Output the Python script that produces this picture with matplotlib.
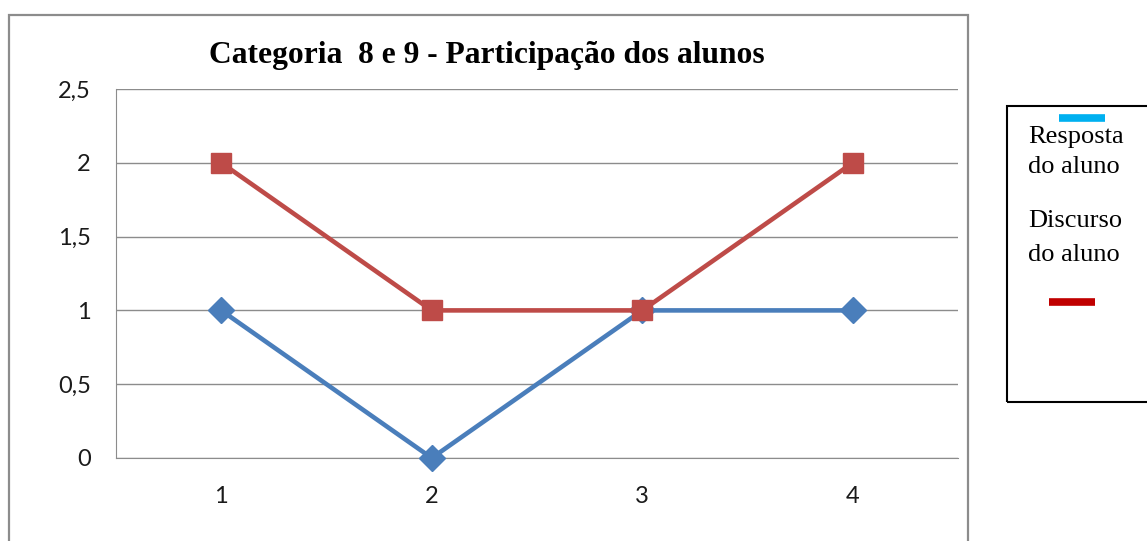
import matplotlib.pyplot as plt
from matplotlib.patches import Rectangle
from matplotlib.lines import Line2D

# chart data
categorias = [1, 2, 3, 4]
resposta_aluno = [1, 0, 1, 1]
discurso_aluno = [2, 1, 1, 2]
y_ticks = [0, 0.5, 1, 1.5, 2, 2.5]
y_labels = ['0', '0,5', '1', '1,5', '2', '2,5']

W, H = 1147, 541
fig = plt.figure(figsize=(W / 100, H / 100), dpi=100)

# outer chart frame (bottom is cut off in the reference)
fig.add_artist(Rectangle((9 / W, -0.05), (968 - 9) / W, 1.05 - 15 / H,
                         transform=fig.transFigure, fill=False,
                         edgecolor='#8c8c8c', linewidth=1.6))

ax = fig.add_axes([116 / W, 1 - 458 / H, (958 - 116) / W, (458 - 89) / H])

ax.plot(categorias, resposta_aluno, color='#4a7ebb', linewidth=3.3,
        marker='D', markersize=13, solid_capstyle='round', zorder=3,
        clip_on=False)
ax.plot(categorias, discurso_aluno, color='#be4b48', linewidth=3.3,
        marker='s', markersize=14.5, solid_capstyle='round', zorder=3,
        clip_on=False)

ax.set_xlim(0.5, 4.5)
ax.set_ylim(0, 2.5)
ax.set_xticks(categorias)
ax.set_xticklabels([str(c) for c in categorias])
ax.set_yticks(y_ticks)
ax.set_yticklabels(y_labels)
ax.grid(axis='y', color='#8c8c8c', linewidth=1)
ax.set_axisbelow(True)
for side in ['top', 'right']:
    ax.spines[side].set_visible(False)
ax.spines['left'].set_color('#8c8c8c')
ax.spines['bottom'].set_color('#8c8c8c')
ax.tick_params(length=0, labelsize=17, colors='#1a1a1a')
ax.tick_params(axis='y', pad=18)
ax.tick_params(axis='x', pad=20)
for lab in ax.get_xticklabels() + ax.get_yticklabels():
    lab.set_family('Lato')

fig.text(487 / W, 1 - 55 / H, 'Categoria  8 e 9 - Participação dos alunos',
         ha='center', va='center', fontsize=22.7, fontweight='bold',
         family='Liberation Serif')

# legend box drawn by hand to follow the original layout
fig.add_artist(Rectangle((1007 / W, 1 - 402 / H), 0.2, (402 - 106) / H,
                         transform=fig.transFigure, fill=False,
                         edgecolor='black', linewidth=1.5))
fig.add_artist(Line2D([1059 / W, 1105 / W], [1 - 118 / H, 1 - 118 / H],
                      transform=fig.transFigure, color='#00b0f0',
                      linewidth=5.5, solid_capstyle='butt'))
fig.add_artist(Line2D([1049 / W, 1095 / W], [1 - 302 / H, 1 - 302 / H],
                      transform=fig.transFigure, color='#c00000',
                      linewidth=5.5, solid_capstyle='butt'))
for txt, yy in [('Resposta', 137), ('do aluno', 167), ('Discurso', 221), ('do aluno', 255)]:
    fig.text(1028 / W, 1 - yy / H, txt, ha='left', va='center', fontsize=19,
             family='Liberation Serif')

plt.savefig('out.png', dpi=100)
